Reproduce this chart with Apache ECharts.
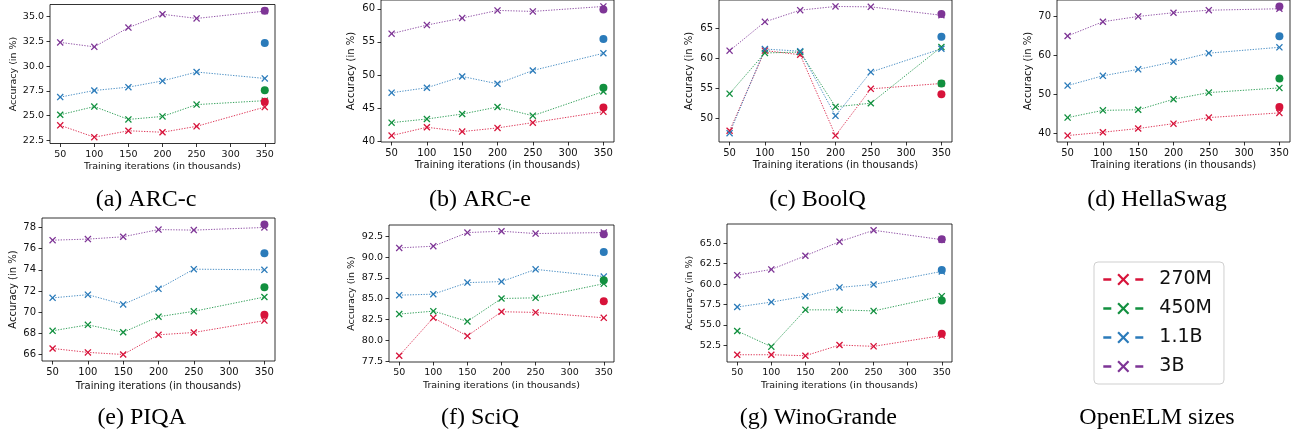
<!DOCTYPE html>
<html>
<head>
<meta charset="utf-8">
<script src="https://cdn.jsdelivr.net/npm/echarts@6/dist/echarts.min.js"></script>
<style>
  html, body { margin: 0; padding: 0; background: #fff; }
  #chart { width: 1299px; height: 436px; }
</style>
</head>
<body>
<div id="chart"></div>
<script>
// training iterations (thousands) and model sizes
var iters = [50, 100, 150, 200, 250, 350];
var models = ['270M', '450M', '1.1B', '3B'];
var colors = ['#d7133a', '#12903f', '#2b7bba', '#7e3596'];

// per benchmark: one row per model (270M, 450M, 1.1B, 3B)
var arcC = [
    [24.0, 22.8, 23.45, 23.3, 23.9, 25.85],
    [25.07, 25.9, 24.6, 24.9, 26.1, 26.5],
    [26.86, 27.53, 27.87, 28.5, 29.4, 28.75],
    [32.4, 31.95, 33.9, 35.25, 34.83, 35.57]
];
var arcCFinal = [26.4, 27.55, 32.35, 35.6];

var arcE = [
    [40.85, 42.1, 41.45, 42.0, 42.8, 44.46],
    [42.8, 43.35, 44.1, 45.16, 43.85, 47.5],
    [47.32, 48.07, 49.77, 48.67, 50.68, 53.28],
    [56.24, 57.54, 58.6, 59.75, 59.6, 60.35]
];
var arcEFinal = [45.1, 48.07, 55.44, 59.9];

var boolq = [
    [47.9, 61.3, 60.6, 47.1, 54.9, 55.8],
    [54.1, 60.9, 61.05, 51.9, 52.5, 61.9],
    [47.5, 61.55, 61.2, 50.4, 57.7, 61.6],
    [61.28, 66.1, 68.05, 68.67, 68.6, 67.2]
];
var boolqFinal = [54.0, 55.8, 63.6, 67.4];

var hellaswag = [
    [39.4, 40.25, 41.2, 42.45, 44.0, 45.2],
    [44.0, 45.85, 46.0, 48.7, 50.4, 51.6],
    [52.2, 54.7, 56.35, 58.3, 60.5, 62.0],
    [64.9, 68.55, 69.9, 70.85, 71.5, 71.87]
];
var hellaswagFinal = [46.7, 54.0, 64.85, 72.46];

var piqa = [
    [66.57, 66.2, 66.0, 67.86, 68.08, 69.2],
    [68.24, 68.8, 68.1, 69.57, 70.08, 71.43],
    [71.35, 71.65, 70.73, 72.2, 74.06, 74.0],
    [76.8, 76.9, 77.12, 77.8, 77.75, 78.0]
];
var piqaFinal = [69.75, 72.35, 75.57, 78.28];

var sciq = [
    [78.14, 82.7, 80.52, 83.43, 83.35, 82.7],
    [83.15, 83.5, 82.27, 85.02, 85.1, 86.8],
    [85.42, 85.54, 86.93, 87.05, 88.52, 87.65],
    [91.1, 91.3, 92.94, 93.1, 92.82, 92.94]
];
var sciqFinal = [84.7, 87.2, 90.59, 92.74];

var winogrande = [
    [51.35, 51.35, 51.23, 52.54, 52.38, 53.7],
    [54.26, 52.34, 56.85, 56.85, 56.72, 58.53],
    [57.2, 57.8, 58.53, 59.6, 59.96, 61.56],
    [61.1, 61.8, 63.48, 65.2, 66.6, 65.45]
];
var winograndeFinal = [53.93, 58.0, 61.72, 65.5];

// tick labels
var xTicks = [50, 100, 150, 200, 250, 300, 350];
var arcCTicks = [22.5, 25, 27.5, 30, 32.5, 35];
var arcETicks = [40, 45, 50, 55, 60];
var boolqTicks = [50, 55, 60, 65];
var hellaswagTicks = [40, 50, 60, 70];
var piqaTicks = [66, 68, 70, 72, 74, 76, 78];
var sciqTicks = [77.5, 80, 82.5, 85, 87.5, 90, 92.5];
var winograndeTicks = [52.5, 55, 57.5, 60, 62.5, 65];

var panels = [
    {caption: '(a) ARC-c', data: arcC, fin: arcCFinal, ticks: arcCTicks, dec: 1,
     left: 50, top: 4.5, width: 225, height: 139, ygap: 31.5, xgap: 18, fs: 9.5, cx: 146, cy: 199.5},
    {caption: '(b) ARC-e', data: arcE, fin: arcEFinal, ticks: arcETicks, dec: 0,
     left: 381, top: 0, width: 233, height: 142, ygap: 25, xgap: 18, fs: 10, cx: 480, cy: 199.5},
    {caption: '(c) BoolQ', data: boolq, fin: boolqFinal, ticks: boolqTicks, dec: 0,
     left: 719, top: 0, width: 233, height: 142, ygap: 24.5, xgap: 18, fs: 10, cx: 817.5, cy: 199.5},
    {caption: '(d) HellaSwag', data: hellaswag, fin: hellaswagFinal, ticks: hellaswagTicks, dec: 0,
     left: 1057, top: 0, width: 233, height: 142, ygap: 24, xgap: 18, fs: 10, cx: 1157, cy: 199.5},
    {caption: '(e) PIQA', data: piqa, fin: piqaFinal, ticks: piqaTicks, dec: 0,
     left: 42, top: 218, width: 233, height: 143, ygap: 24, xgap: 20, fs: 10, cx: 141.7, cy: 418},
    {caption: '(f) SciQ', data: sciq, fin: sciqFinal, ticks: sciqTicks, dec: 1,
     left: 389, top: 225, width: 225, height: 137, ygap: 32, xgap: 18.5, fs: 9.5, cx: 480, cy: 418},
    {caption: '(g) WinoGrande', data: winogrande, fin: winograndeFinal, ticks: winograndeTicks, dec: 1,
     left: 727, top: 224, width: 225, height: 138, ygap: 32, xgap: 18.5, fs: 9.5, cx: 818.3, cy: 418}
];

var X_PATH = 'path://M0,1.3L1.3,0L5,3.7L8.7,0L10,1.3L6.3,5L10,8.7L8.7,10L5,6.3L1.3,10L0,8.7L3.7,5Z';

var grids = [], xAxes = [], yAxes = [], series = [], graphics = [];

panels.forEach(function (p, gi) {
    // y range like matplotlib autoscale (5% margin)
    var all = p.fin.slice();
    p.data.forEach(function (row) { all = all.concat(row); });
    var lo = Math.min.apply(null, all), hi = Math.max.apply(null, all);
    var pad = (hi - lo) * 0.05;

    grids.push({
        left: p.left, top: p.top, width: p.width, height: p.height,
        show: true, borderColor: '#000', borderWidth: 0.8, backgroundColor: 'transparent',
        containLabel: false, outerBoundsMode: 'none'
    });
    xAxes.push({
        type: 'value', gridIndex: gi, min: 35, max: 365,
        name: 'Training iterations (in thousands)', nameLocation: 'middle', nameGap: p.xgap,
        nameTextStyle: {fontFamily: 'DejaVu Sans', fontSize: p.fs, color: '#111'},
        axisLine: {show: false},
        axisTick: {show: true, inside: false, length: 3.5, customValues: xTicks,
                   lineStyle: {color: '#000', width: 0.8}},
        axisLabel: {customValues: xTicks, margin: 6, fontFamily: 'DejaVu Sans', fontSize: p.fs, color: '#111'},
        splitLine: {show: false}
    });
    yAxes.push({
        type: 'value', gridIndex: gi, min: lo - pad, max: hi + pad,
        name: 'Accuracy (in %)', nameLocation: 'middle', nameGap: p.ygap,
        nameTextStyle: {fontFamily: 'DejaVu Sans', fontSize: p.fs, color: '#111'},
        axisLine: {show: false},
        axisTick: {show: true, inside: false, length: 3.5, customValues: p.ticks,
                   lineStyle: {color: '#000', width: 0.8}},
        axisLabel: {customValues: p.ticks, margin: 6, fontFamily: 'DejaVu Sans', fontSize: p.fs, color: '#111',
                    formatter: function (v) { return v.toFixed(p.dec); }},
        splitLine: {show: false}
    });

    p.data.forEach(function (row, mi) {
        series.push({
            type: 'line', name: models[mi], xAxisIndex: gi, yAxisIndex: gi,
            data: iters.map(function (x, k) { return [x, row[k]]; }),
            symbol: X_PATH, symbolSize: 7, showAllSymbol: true,
            itemStyle: {color: colors[mi]},
            lineStyle: {color: colors[mi], width: 1, type: [1.3, 1.4], opacity: 0.85},
            z: 3, animation: false
        });
        series.push({
            type: 'scatter', xAxisIndex: gi, yAxisIndex: gi,
            data: [[350, p.fin[mi]]],
            symbol: 'circle', symbolSize: 8,
            itemStyle: {color: colors[mi], opacity: 1},
            z: 4, animation: false
        });
    });

    graphics.push({
        type: 'text', x: p.cx, y: p.cy,
        style: {text: p.caption, font: '24px "Liberation Serif"', fill: '#000',
                align: 'center', verticalAlign: 'middle'}
    });
});

graphics.push({
    type: 'text', x: 1157, y: 418,
    style: {text: 'OpenELM sizes', font: '24px "Liberation Serif"', fill: '#000',
            align: 'center', verticalAlign: 'middle'}
});

var chart = echarts.init(document.getElementById('chart'), null, {renderer: 'canvas'});
chart.setOption({
    animation: false,
    grid: grids,
    xAxis: xAxes,
    yAxis: yAxes,
    series: series,
    legend: {
        data: models, orient: 'vertical', left: 1094, top: 262,
        padding: [8, 12, 8, 8], itemGap: 10, itemWidth: 40, itemHeight: 15,
        borderColor: '#cfcfcf', borderWidth: 1, borderRadius: 4,
        selectedMode: false,
        lineStyle: {width: 2.6, type: [8, 24], opacity: 1},
        textStyle: {fontFamily: 'DejaVu Sans', fontSize: 19, color: '#111', padding: [0, 0, 0, 11]}
    },
    graphic: graphics
});
</script>
</body>
</html>
